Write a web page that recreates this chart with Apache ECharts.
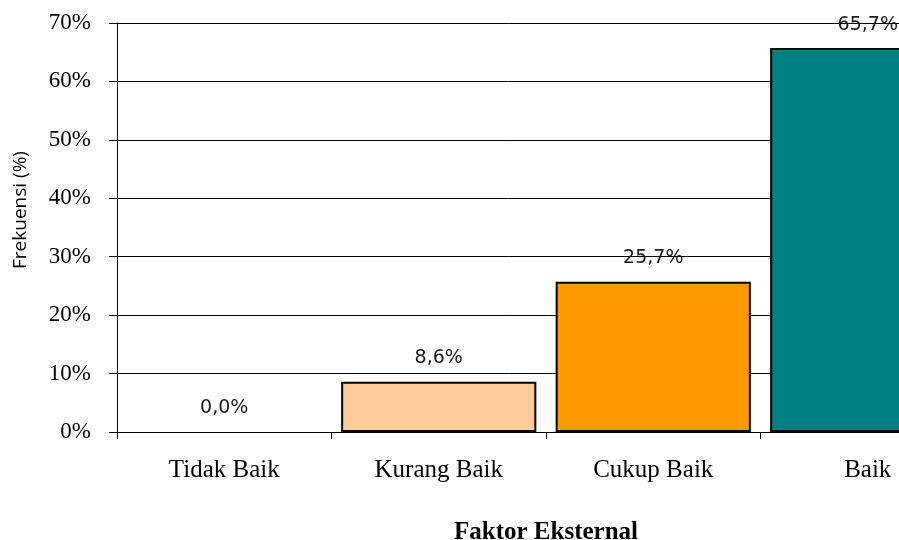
<!DOCTYPE html>
<html>
<head>
<meta charset="utf-8">
<script src="https://cdn.jsdelivr.net/npm/echarts@6/dist/echarts.min.js"></script>
<style>
  html, body { margin: 0; padding: 0; background: #ffffff; }
  #chart { width: 899px; height: 540px; }
</style>
</head>
<body>
<div id="chart"></div>
<script>
// Frekuensi faktor eksternal per kategori
const categories = ['Tidak Baik', 'Kurang Baik', 'Cukup Baik', 'Baik'];
const values = [0.0, 8.6, 25.7, 65.7];
const barColors = ['#C0C0C0', '#FFCC99', '#FF9900', '#008080'];
const yTicks = [0, 10, 20, 30, 40, 50, 60, 70];

const chart = echarts.init(document.getElementById('chart'), null, { renderer: 'canvas' });

const serif = '"Liberation Serif", "Times New Roman", serif';
const sans = '"DejaVu Sans", Verdana, sans-serif';

chart.setOption({
  backgroundColor: '#ffffff',
  animation: false,
  // plot area runs past the right edge of the canvas
  grid: {
    left: 117, top: 23, width: 858, height: 409,
    containLabel: false,
    outerBoundsMode: 'none'
  },
  xAxis: {
    type: 'category',
    data: categories,
    name: 'Faktor Eksternal',
    nameLocation: 'middle',
    nameGap: 88,
    nameTextStyle: { fontFamily: serif, fontSize: 25, fontWeight: 'bold', color: '#000' },
    axisLine: { show: true, lineStyle: { color: '#000', width: 1 } },
    axisTick: { show: true, alignWithLabel: false, length: 7, lineStyle: { color: '#000', width: 1 } },
    axisLabel: { fontFamily: serif, fontSize: 25, color: '#000', margin: 26 },
    splitLine: { show: false }
  },
  yAxis: {
    type: 'value',
    min: yTicks[0],
    max: yTicks[yTicks.length - 1],
    interval: 10,
    axisLine: { show: true, lineStyle: { color: '#000', width: 1 } },
    axisTick: { show: true, inside: false, length: 8, lineStyle: { color: '#000', width: 1 } },
    axisLabel: {
      fontFamily: serif, fontSize: 23, color: '#000', margin: 26,
      formatter: v => v + '%'
    },
    splitLine: { show: true, lineStyle: { color: '#000', width: 1 } }
  },
  graphic: [{
    type: 'text',
    x: 21,
    y: 210,
    rotation: Math.PI / 2,
    style: {
      text: 'Frekuensi (%)',
      fontFamily: '"Open Sans", "Noto Sans", sans-serif',
      fontSize: 19,
      fill: '#000',
      align: 'center',
      verticalAlign: 'middle'
    }
  }],
  series: [{
    type: 'bar',
    data: values.map((v, i) => ({
      value: v,
      itemStyle: { color: barColors[i], borderColor: '#000', borderWidth: v > 0 ? 2 : 0 }
    })),
    barCategoryGap: '9%',
    label: {
      show: true,
      position: 'top',
      distance: 14,
      fontFamily: sans,
      fontSize: 19,
      color: '#1a1a1a',
      formatter: p => p.value.toFixed(1).replace('.', ',') + '%'
    }
  }]
});
</script>
</body>
</html>
